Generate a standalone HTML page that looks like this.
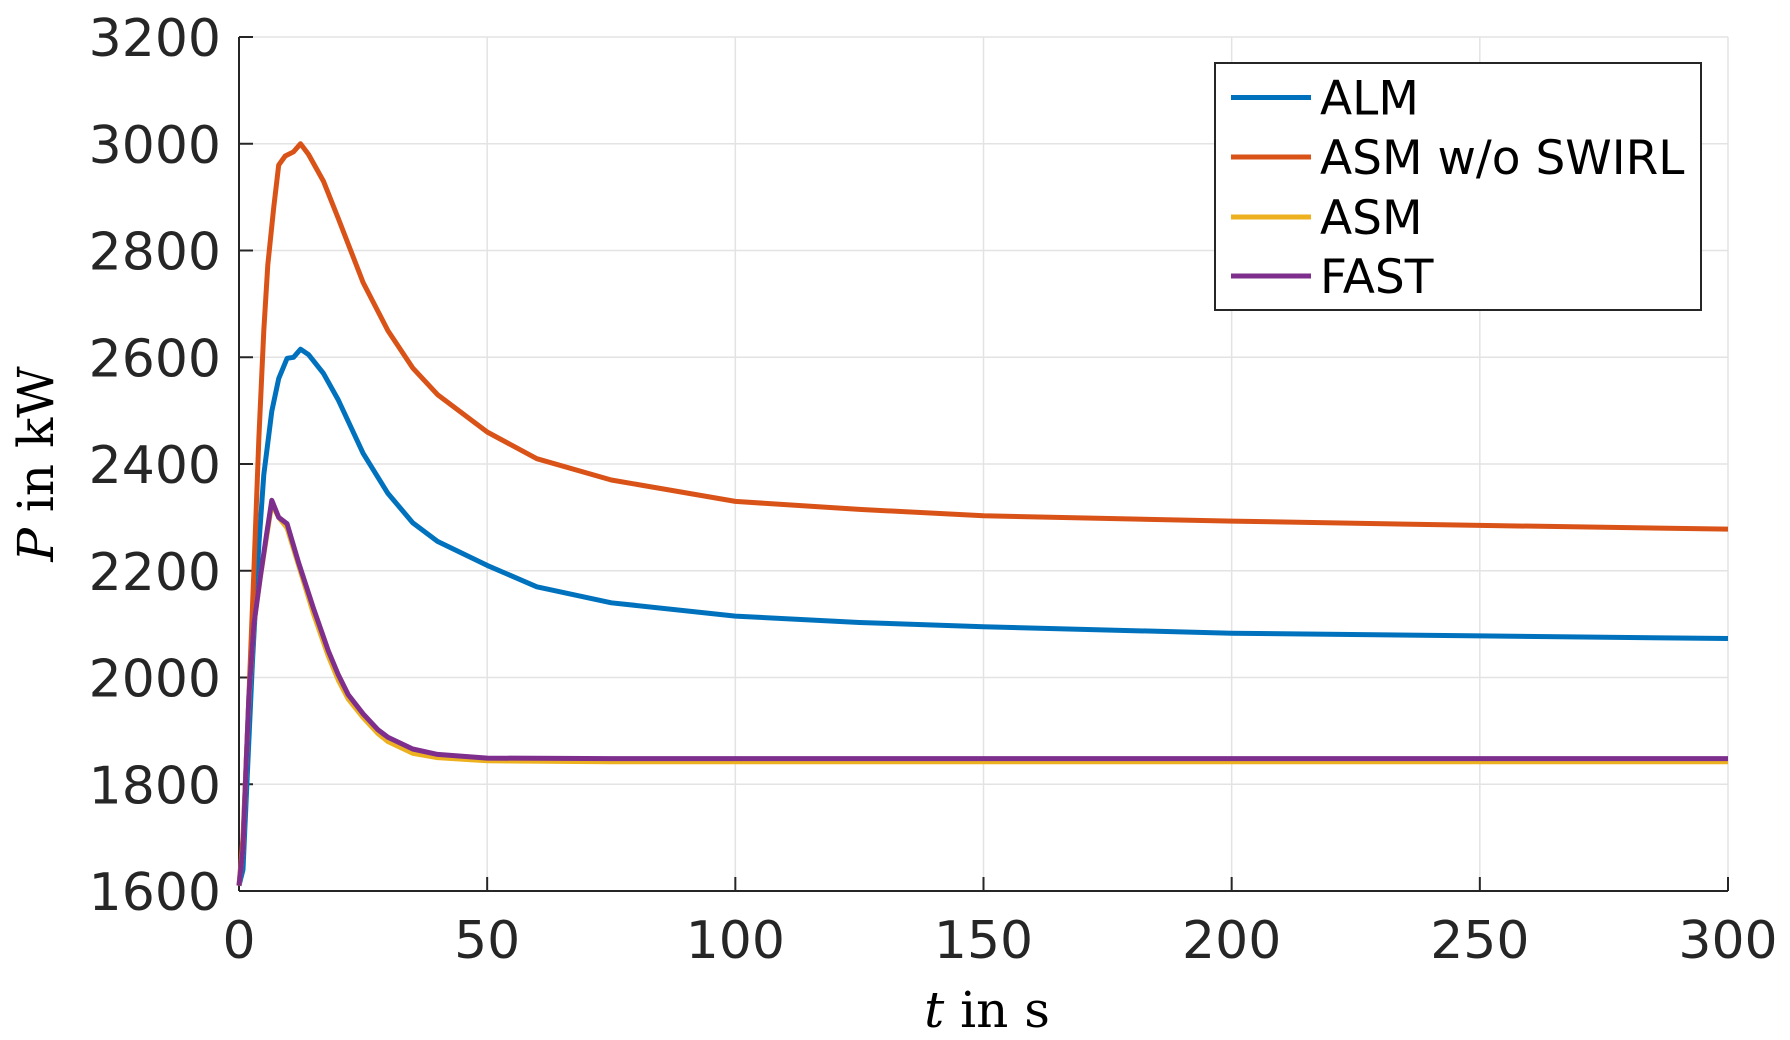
<!DOCTYPE html>
<html><head><meta charset="utf-8"><style>
html,body{margin:0;padding:0;background:#fff;}
svg{display:block;}
.tk{font-family:"DejaVu Sans","Liberation Sans",sans-serif;font-size:52px;fill:#262626;}
.lg{font-family:"DejaVu Sans","Liberation Sans",sans-serif;font-size:47px;fill:#000;}
.ax{font-family:"DejaVu Serif","Liberation Serif",serif;font-size:50px;fill:#000;}
</style></head><body>
<svg id="chart" width="1790" height="1040" viewBox="0 0 1790 1040"></svg>
<script>
const xTicks=[0,50,100,150,200,250,300];
const yTicks=[1600,1800,2000,2200,2400,2600,2800,3000,3200];
const seriesNames=["ALM","ASM w/o SWIRL","ASM","FAST"];
const seriesColors=["#0072BD","#D95319","#EDB120","#7E2F8E"];
const tALM=[0,0.8,1.5,2.7,4,5,6.6,8,9.7,11,12.4,14,17,20,25,30,35,40,50,60,75,100,125,150,200,250,300];
const vALM=[1610,1640,1780,2027,2250,2380,2499,2560,2598,2600,2615,2605,2570,2520,2420,2345,2290,2255,2210,2170,2140,2115,2103,2095,2083,2078,2073];
const tSW=[0,0.8,1.5,2,3,4,5,5.8,7,8,9.3,11,12.4,14,17,20,25,30,35,40,50,60,75,100,125,150,200,250,300];
const vSW=[1610,1700,1850,1965,2200,2450,2650,2773,2880,2960,2977,2985,3000,2980,2930,2860,2740,2650,2580,2530,2460,2410,2370,2330,2315,2303,2293,2285,2278];
const tASM=[0,0.8,1.5,2,3,4.3,5.5,6.6,8,9.7,12,15,18,20,22,25,28,30,35,40,50,75,100,150,200,250,300];
const vASM=[1610,1680,1850,1960,2100,2188,2260,2325,2300,2280,2210,2120,2040,1995,1960,1925,1895,1880,1858,1850,1844,1842,1842,1842,1842,1842,1842];
const tFAST=[0,0.8,1.5,2,3,4.3,5.5,6.6,8,9.7,12,15,18,20,22,25,28,30,35,40,50,75,100,150,200,250,300];
const vFAST=[1610,1680,1850,1965,2100,2188,2265,2332,2300,2288,2215,2130,2050,2005,1968,1932,1902,1888,1866,1856,1849,1848,1848,1848,1848,1848,1848];
const X0=239,X1=1728,Y0=891,Y1=37;
const sx=t=>X0+(t-0)/(300-0)*(X1-X0);
const sy=v=>Y0-(v-1600)/(3200-1600)*(Y0-Y1);
const NS="http://www.w3.org/2000/svg";
const svg=document.getElementById('chart');
function mk(tag,attrs,parent){const e=document.createElementNS(NS,tag);for(const k in attrs)e.setAttribute(k,attrs[k]);(parent||svg).appendChild(e);return e;}
const grid=mk('g',{});


xTicks.forEach(t=>{const l=mk('line',{x1:sx(t),x2:sx(t),y1:Y1,y2:Y0,stroke:'#e3e3e3','stroke-width':1.5},grid);

});
yTicks.forEach(v=>{const l=mk('line',{x1:X0,x2:X1,y1:sy(v),y2:sy(v),stroke:'#e3e3e3','stroke-width':1.5},grid);

});
const axes=mk('g',{stroke:'#262626','stroke-width':2,fill:'none'});


mk('line',{x1:X0,x2:X1,y1:Y0,y2:Y0},axes);
mk('line',{x1:X0,x2:X0,y1:Y1,y2:Y0},axes);
xTicks.forEach(t=>{mk('line',{x1:sx(t),x2:sx(t),y1:Y0,y2:Y0-14},axes);
const tx=mk('text',{x:sx(t),y:958,'text-anchor':'middle',class:'tk'});tx.textContent=t;

});
yTicks.forEach(v=>{mk('line',{x1:X0,x2:X0+14,y1:sy(v),y2:sy(v)},axes);
const tx=mk('text',{x:221,y:sy(v)+19,'text-anchor':'end',class:'tk'});tx.textContent=v;

});
const data=[[tALM,vALM],[tSW,vSW],[tASM,vASM],[tFAST,vFAST]];
const snames=['series-alm','series-asm-wo-swirl','series-asm','series-fast'];
data.forEach((d,i)=>{const pts=d[0].map((t,j)=>sx(t).toFixed(1)+','+sy(d[1][j]).toFixed(1)).join(' ');
const p=mk('polyline',{points:pts,fill:'none',stroke:seriesColors[i],'stroke-width':5,'stroke-linejoin':'round'});

});
const lg=mk('g',{});


mk('rect',{x:1215,y:63,width:486,height:247,fill:'#fff',stroke:'#262626','stroke-width':2},lg);
const rowY=[97.5,157,217,276];
seriesNames.forEach((n,i)=>{
const e=mk('g',{},lg);


mk('line',{x1:1231,x2:1311,y1:rowY[i],y2:rowY[i],stroke:seriesColors[i],'stroke-width':5},e);
const tx=mk('text',{x:1320,y:rowY[i]+17,class:'lg'},e);tx.textContent=n;});
const yt=mk('text',{x:0,y:0,class:'ax',transform:'translate(53,464) rotate(-90)','text-anchor':'middle'});
yt.innerHTML='<tspan font-style="italic">P</tspan> in kW';


const xt=mk('text',{x:987,y:1027,class:'ax','text-anchor':'middle'});
xt.innerHTML='<tspan font-style="italic">t</tspan> in s';


</script>
</body></html>
